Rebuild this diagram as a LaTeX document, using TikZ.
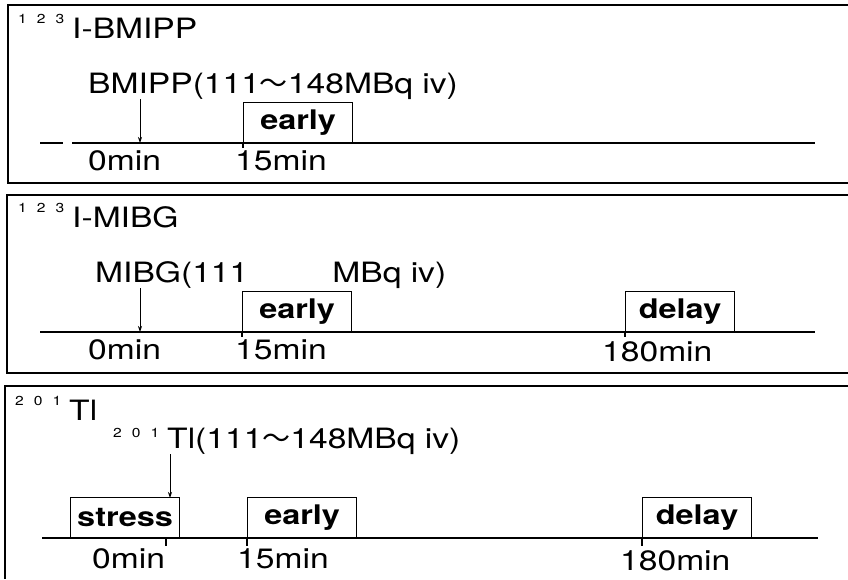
\documentclass[tikz,border=0pt]{standalone}
\usepackage{fontspec}
\setmainfont{TeX Gyre Heros}[FakeStretch=1.2]
\newfontfamily\cjk{Noto Sans CJK JP}
\usepackage{tikz}
\usetikzlibrary{arrows.meta}

% small raised mass number in front of a nuclide
\newcommand{\isotop}[2][15pt]{\raisebox{#1}{\fontsize{13}{13}\selectfont #2}\hspace{8pt}}

\begin{document}
\begin{tikzpicture}[x=1pt, y=-1pt,
  frame/.style={line width=1.4pt},
  axis/.style={line width=1.5pt},
  slot/.style={draw, line width=1.1pt, anchor=south west, minimum width=109pt,
               minimum height=40pt, inner sep=0pt,
               font=\fontsize{27}{27}\selectfont\bfseries},
  title/.style={anchor=base west, inner sep=0pt, font=\fontsize{28}{28}\selectfont},
  dose/.style={anchor=base west, inner sep=0pt, font=\fontsize{28}{28}\selectfont},
  tlabel/.style={anchor=base west, inner sep=0pt, font=\fontsize{28}{28}\selectfont},
  inject/.style={-{Stealth[length=6pt,width=4pt]}, line width=0.8pt},
  tick/.style={line width=1.1pt},
]
\useasboundingbox (0,0) rectangle (848,579);

% 123I-BMIPP
\draw[frame] (848,5) -- (8,5) -- (8,183) -- (848,183);
\node[title] (ttl1) at (18,38) {\isotop{1\hspace{10pt}2\hspace{10pt}3}I-BMIPP};
\node[dose] (dose1) at (88,93) {BMIPP(111{\cjk ～}148MBq iv)};
\coordinate (a1) at (40,143);
\coordinate (b1) at (815,143);
\coordinate (inj1) at (140,143);
\draw[axis, dash pattern=on 23pt off 9pt on 800pt] (a1) -- (b1);
\node[slot] (early1) at (243,143) {early};
\draw[inject] (dose1.south -| inj1) -- (inj1);
\draw[tick] (early1.south west) -- ++(0,5);
\node[tlabel] (zero1) at (88,170) {0min};
\node[tlabel] (fift1) at (235,170) {15min};

% 123I-MIBG
\draw[frame] (848,195) -- (7,195) -- (7,373) -- (848,373);
\node[title] (ttl2) at (18,227) {\isotop{1\hspace{10pt}2\hspace{10pt}3}I-MIBG};
\node[dose] (dose2) at (95,282) {MIBG(111\phantom{{\cjk ～}148}MBq iv)};
\coordinate (a2) at (40,332);
\coordinate (b2) at (815,332);
\coordinate (inj2) at (140,332);
\draw[axis] (a2) -- (b2);
\node[slot] (early2) at (242,332) {early};
\node[slot] (delay2) at (625,332) {delay};
\draw[inject] (dose2.south -| inj2) -- (inj2);
\draw[tick] (early2.south west) -- ++(0,5);
\draw[tick] (delay2.south west) -- ++(0,5);
\node[tlabel] (zero2) at (88,359) {0min};
\node[tlabel] (fift2) at (235,359) {15min};
\node[tlabel] (late2) at (602,361) {180min};

% 201Tl
\draw[frame] (848,386) -- (5,386) -- (5,579);
\node[title] (ttl3) at (15,420) {\isotop{2\hspace{10pt}0\hspace{10pt}1}Tl};
\node[dose] (dose3) at (113,448) {\isotop[11pt]{2\hspace{10pt}0\hspace{10pt}1}Tl(111{\cjk ～}148MBq iv)};
\coordinate (a3) at (42,538);
\coordinate (b3) at (818,538);
\coordinate (t0) at (166,538);
\draw[axis] (a3) -- (b3);
\node[slot] (stress3) at (70,538) {stress};
\node[slot] (early3) at (247,538) {early};
\node[slot] (delay3) at (642,538) {delay};
\coordinate (inj3) at (170,498);
\draw[inject] (dose3.south -| inj3) -- (inj3);
\draw[tick] (t0) -- ++(0,8);
\draw[tick] (early3.south west) -- ++(0,8);
\draw[tick] (delay3.south west) -- ++(0,8);
\node[tlabel] (zero3) at (92,568) {0min};
\node[tlabel] (fift3) at (237,568) {15min};
\node[tlabel] (late3) at (620,570) {180min};
\end{tikzpicture}
\end{document}
